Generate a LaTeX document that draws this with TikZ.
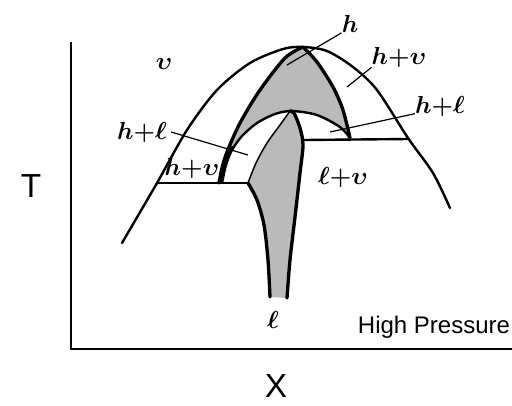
\RequirePackage{fix-cm}
\documentclass[tikz,border=0pt]{standalone}
\usepackage{fontspec}
\newfontfamily\arialfont{Liberation Sans}
\begin{document}
\begin{tikzpicture}[x=0.75pt,y=-0.75pt,
  axis/.style={line width=1.3pt},
  bound/.style={line width=1.8pt, line cap=round, line join=round},
  heavy/.style={line width=2.5pt, line cap=round, line join=round},
  thinb/.style={line width=1.1pt},
  leader/.style={line width=0.9pt},
  shade/.style={fill=black!27},
  lab/.style={font=\fontsize{18.5}{18.5}\selectfont\boldmath, inner sep=0pt},
  sanslab/.style={font=\arialfont\fontsize{18}{18}\selectfont, inner sep=0pt},
  biglab/.style={font=\arialfont\fontsize{25}{25}\selectfont, inner sep=0pt}]
\useasboundingbox (0,0) rectangle (512,405);

% axes
\draw[axis] (71,42) -- (71,349) -- (512,349);
\node[biglab] (T) at (31,186) {T};
\node[biglab] (X) at (276,386) {X};
\node[sanslab] (hp) at (434,327) {High Pressure};

% hydrate region
\fill[shade] plot[smooth] coordinates {(219,183) (222,168) (227,152) (240,123) (260,90) (285,58) (303,47)}
  -- plot[smooth] coordinates {(303,47) (317,62) (333,87) (343,110) (350,138)}
  -- plot[smooth] coordinates {(350,138) (340,127) (317,115) (292,111) (275,114) (257,123) (242,136) (232,150) (226,165) (222,183)} -- cycle;
% liquid region
\fill[shade] plot[smooth] coordinates {(290,111) (280,125) (267,143) (256,163) (248,183)}
  -- plot[smooth] coordinates {(248,183) (257,200) (264,225) (268,260) (270,297)}
  -- (287,298)
  -- plot[smooth] coordinates {(287,298) (290,260) (295,217) (300,173) (303,145) (300,128) (294,113) (290,111)} -- cycle;
% black sliver (h+l)
\fill[black] plot[smooth] coordinates {(218,183) (221,168) (226,153) (232,146)}
  -- plot[smooth] coordinates {(234,147) (228,160) (224,172) (223,183)} -- cycle;

% outer vapour boundary
\draw[bound] plot[smooth] coordinates {(122,243) (157,183) (187,130) (217,90) (250,63) (283,49) (303,47) (327,51) (353,67) (377,90) (408,138) (433,173) (450,208)};

% hydrate boundaries
\draw[heavy] plot[smooth] coordinates {(219,183) (222,168) (227,152) (240,123) (260,90) (285,58) (303,47)};
\draw[heavy] plot[smooth] coordinates {(303,47) (317,62) (333,87) (343,110) (350,138)};
\draw[bound] plot[smooth] coordinates {(350,138) (340,127) (317,115) (292,111) (275,114) (257,123) (242,136) (232,150) (226,165) (222,183)};

% liquid boundaries
\draw[thinb] plot[smooth] coordinates {(290,111) (280,125) (267,143) (256,163) (248,183)};
\draw[heavy] plot[smooth] coordinates {(248,183) (257,200) (264,225) (268,260) (270,297)};
\draw[heavy] plot[smooth] coordinates {(287,298) (290,260) (295,217) (300,173) (303,145) (300,128) (294,113) (290,111)};

% three-phase lines
\draw[bound] (157,183) -- (248,183);
\draw[bound] (303,140) -- (408,139);

% labels
\node[lab] (v) at (164,64) {$\upsilon$};
\node[lab] (h) at (350,24) {$h$};
\node[lab] (hv2) at (399,57) {$h{+}\upsilon$};
\node[lab] (hl2) at (440,106) {$h{+}\ell$};
\node[lab] (hl1) at (142,132) {$h{+}\ell$};
\node[lab] (hv1) at (192,168) {$h{+}\upsilon$};
\node[lab] (lv) at (343,177) {$\ell{+}\upsilon$};
\node[lab] (l) at (273,320) {$\ell$};

\coordinate (hpt) at (287,65);
\coordinate (hv2pt) at (347,87);
\coordinate (hl2pt) at (330,132);
\coordinate (hl1pt) at (248,155);
\draw[leader] (h.south west) -- (hpt);
\draw[leader] (hv2.south west) -- (hv2pt);
\draw[leader] ([yshift=2pt]hl2.south west) -- (hl2pt);
\draw[leader] ([xshift=3pt]hl1.east) -- (hl1pt);
\end{tikzpicture}
\end{document}
